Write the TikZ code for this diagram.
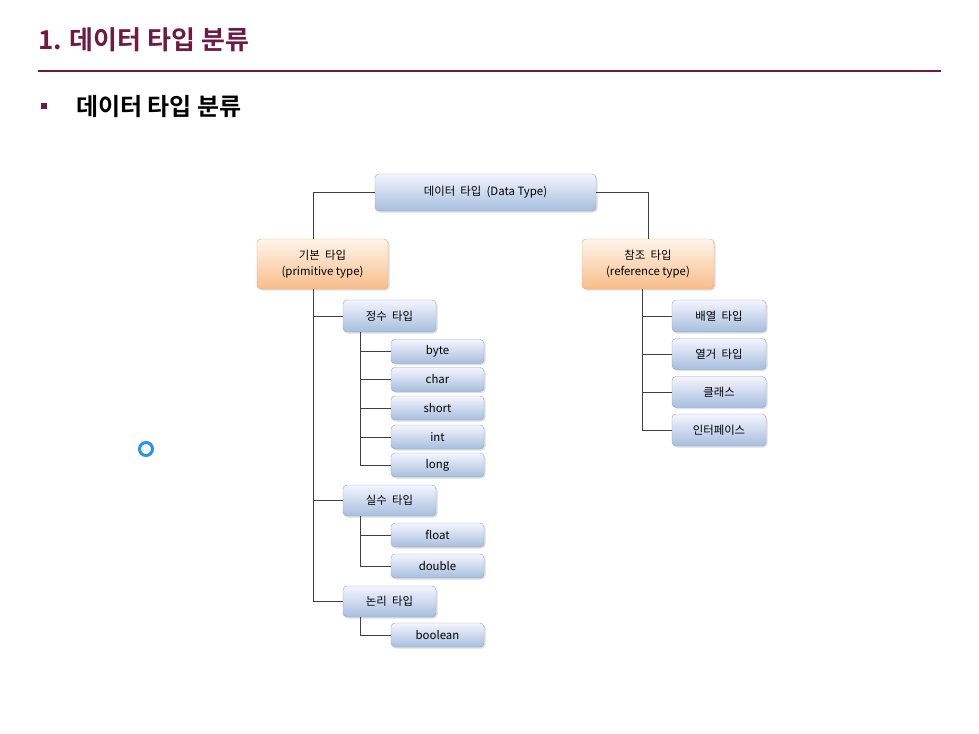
\documentclass[tikz,border=0pt]{standalone}
\usepackage{fontspec}
\setmainfont{Noto Sans CJK KR}[BoldFont={Noto Sans CJK KR Bold}]
\usetikzlibrary{shadows}

\definecolor{maroon}{HTML}{6E1A42}
\definecolor{boxblue}{HTML}{A6BEDD}
\definecolor{lineblue}{HTML}{8DA6C9}
\definecolor{boxorange}{HTML}{F8BD8A}
\definecolor{lineorange}{HTML}{EFA468}
\definecolor{ringblue}{HTML}{2A93EE}

\begin{document}
\begin{tikzpicture}[
x=1pt, y=-1pt,
bluebox/.style={
  rectangle,
  rounded corners=4pt,
  draw=lineblue,
  top color=blue!4,
  bottom color=boxblue,
  drop shadow={shadow xshift=1.5pt,shadow yshift=-1.5pt,opacity=0.25},
  inner sep=0pt,
  align=center,
  font=\fontsize{11.4}{13.5}\selectfont
},
orangebox/.style={
  bluebox,
  draw=lineorange,
  top color=orange!8,
  bottom color=boxorange
},
leaf/.style={bluebox, minimum width=93pt, minimum height=24pt},
conn/.style={black!75, line width=0.8pt}
]
\useasboundingbox (0,0) rectangle (979,733);

% heading
\node (title) at (38,40) [anchor=west, inner sep=0pt, text=maroon, font=\fontsize{26}{30}\selectfont\bfseries] {1. 데이터 타입 분류};
\draw [maroon, line width=1.6pt] (38,71) -- (941,71);
\node (bullet) at (44,106) [fill=maroon, minimum size=6pt, inner sep=0pt] {};
\node (sub) at (76,107) [anchor=west, inner sep=0pt, font=\fontsize{24}{28}\selectfont\bfseries] {데이터 타입 분류};
\node (ring) at (146,449) [circle, draw=ringblue, line width=3pt, minimum size=13pt, inner sep=0pt] {};

% top levels
\node (root) at (485.5,192.5) [bluebox, minimum width=221pt, minimum height=37pt] {데이터\ \ 타입\ \ (Data Type)};
\node (prim) at (322.5,264) [orangebox, minimum width=131pt, minimum height=50pt] {기본\ \ 타입\\[3pt](primitive type)};
\node (ref) at (648,264) [orangebox, minimum width=132pt, minimum height=50pt] {참조\ \ 타입\\[3pt](reference type)};

% primitive side
\node (intg) at (389.5,316) [bluebox, minimum width=93pt, minimum height=32pt] {정수\ \ 타입};
\node (byte) at (437.5,351.5) [leaf] {byte};
\node (char) at (437.5,379.5) [leaf] {char};
\node (short) at (437.5,408) [leaf] {short};
\node (int) at (437.5,437) [leaf] {int};
\node (long) at (437.5,465) [leaf] {long};

\node (realn) at (389.5,500.5) [bluebox, minimum width=93pt, minimum height=31pt] {실수\ \ 타입};
\node (float) at (437.5,535) [leaf] {float};
\node (double) at (437.5,566) [leaf] {double};

\node (logic) at (389.5,601.5) [bluebox, minimum width=93pt, minimum height=31pt] {논리\ \ 타입};
\node (boolean) at (437.5,635) [leaf] {boolean};

% reference side
\node (array) at (719,316) [bluebox, minimum width=94pt, minimum height=32pt] {배열\ \ 타입};
\node (enum) at (719,354) [bluebox, minimum width=94pt, minimum height=31pt] {열거\ \ 타입};
\node (class) at (719,392) [bluebox, minimum width=94pt, minimum height=31pt] {클래스};
\node (iface) at (719,430) [bluebox, minimum width=94pt, minimum height=32pt] {인터페이스};

% connectors
\draw [conn] (root.west) -| ([xshift=-9pt]prim.north);
\draw [conn] (root.east) -| (ref.north);

\draw [conn] ([xshift=-9pt]prim.south) |- (intg.west);
\draw [conn] ([xshift=-9pt]prim.south) |- (realn.west);
\draw [conn] ([xshift=-9pt]prim.south) |- (logic.west);

\foreach \n in {byte,char,short,int,long}
  \draw [conn] ([xshift=-29.5pt]intg.south) |- (\n.west);
\foreach \n in {float,double}
  \draw [conn] ([xshift=-29.5pt]realn.south) |- (\n.west);
\draw [conn] ([xshift=-29.5pt]logic.south) |- (boolean.west);

\foreach \n in {array,enum,class,iface}
  \draw [conn] ([xshift=-6pt]ref.south) |- (\n.west);

\end{tikzpicture}
\end{document}
